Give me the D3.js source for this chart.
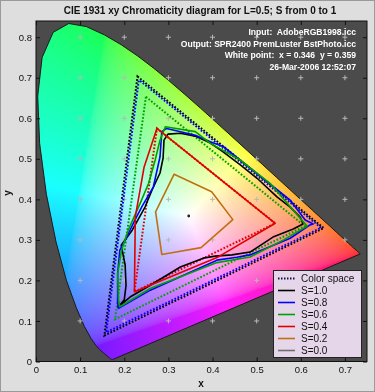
<!DOCTYPE html>
<html><head><meta charset="utf-8">
<script src="https://cdn.jsdelivr.net/npm/d3@7/dist/d3.min.js"></script>
<style>
body{margin:0;background:#dedede;}
#wrap{position:relative;width:375px;height:392px;overflow:hidden;}
canvas,svg{position:absolute;left:0;top:0;}
text{font-family:"Liberation Sans",Arial,sans-serif;}
</style>
</head><body><div id="wrap"><canvas id="cv" width="375" height="392"></canvas><svg id="sv" width="375" height="392"></svg></div>
<script>
// ---- data ----
const title = "CIE 1931 xy Chromaticity diagram for L=0.5; S from 0 to 1";
const infoLines = ["Input:  AdobeRGB1998.icc","Output: SPR2400 PremLuster BstPhoto.icc","White point:  x = 0.346  y = 0.359","26-Mar-2006 12:52:07"];
const xTicks = [0,0.1,0.2,0.3,0.4,0.5,0.6,0.7];
const yTicks = [0,0.1,0.2,0.3,0.4,0.5,0.6,0.7,0.8];
const gridX = [0.1,0.2,0.3,0.4,0.5,0.6,0.7];
const gridY = [0.1,0.2,0.3,0.4,0.5,0.6,0.7,0.8];
// CIE 1931 spectral locus (380-700 nm)
const locusX = [0.1741,0.1740,0.1738,0.1736,0.1733,0.1730,0.1726,0.1721,0.1714,0.1703,0.1689,0.1669,0.1644,0.1611,0.1566,0.1510,0.1440,0.1355,0.1241,0.1096,0.0913,0.0687,0.0454,0.0235,0.0082,0.0039,0.0139,0.0389,0.0743,0.1142,0.1547,0.1929,0.2296,0.2658,0.3016,0.3373,0.3731,0.4087,0.4441,0.4788,0.5125,0.5448,0.5752,0.6029,0.6270,0.6482,0.6658,0.6801,0.6915,0.7006,0.7079,0.7140,0.7190,0.7230,0.7260,0.7283,0.7300,0.7320,0.7334,0.7344,0.7347];
const locusY = [0.0050,0.0050,0.0049,0.0049,0.0048,0.0048,0.0048,0.0048,0.0051,0.0058,0.0069,0.0086,0.0109,0.0138,0.0177,0.0227,0.0297,0.0399,0.0578,0.0868,0.1327,0.2007,0.2950,0.4127,0.5384,0.6548,0.7502,0.8120,0.8338,0.8262,0.8059,0.7816,0.7543,0.7243,0.6923,0.6589,0.6245,0.5896,0.5547,0.5202,0.4866,0.4544,0.4242,0.3965,0.3725,0.3514,0.3340,0.3197,0.3083,0.2993,0.2920,0.2859,0.2809,0.2770,0.2740,0.2717,0.2700,0.2680,0.2666,0.2656,0.2653];
// colour space (input) gamut at each S, dotted
const cs10 = [[0.230,0.703],[0.652,0.329],[0.155,0.064]];
const cs08 = [[0.233,0.695],[0.646,0.330],[0.159,0.072]];
const cs06 = [[0.249,0.653],[0.609,0.334],[0.179,0.104]];
const cs04 = [[0.274,0.575],[0.542,0.341],[0.223,0.172]];
// output gamut at each S, solid
const s10 = [[0.299,0.561],[0.327,0.563],[0.361,0.556],[0.395,0.539],[0.424,0.517],[0.463,0.485],[0.501,0.452],[0.546,0.406],[0.576,0.381],[0.599,0.356],[0.605,0.339],[0.583,0.327],[0.537,0.307],[0.485,0.270],[0.444,0.263],[0.406,0.260],[0.379,0.255],[0.327,0.233],[0.259,0.188],[0.213,0.159],[0.186,0.134],[0.200,0.152],[0.204,0.188],[0.202,0.238],[0.193,0.287],[0.218,0.324],[0.247,0.381],[0.263,0.423],[0.281,0.465],[0.288,0.502],[0.290,0.546]];
const s08 = [[0.296,0.575],[0.361,0.558],[0.395,0.542],[0.425,0.530],[0.500,0.464],[0.576,0.398],[0.610,0.349],[0.628,0.339],[0.621,0.337],[0.576,0.304],[0.485,0.263],[0.455,0.257],[0.410,0.250],[0.259,0.176],[0.187,0.131],[0.185,0.143],[0.185,0.217],[0.190,0.275],[0.206,0.308],[0.224,0.349],[0.240,0.382],[0.266,0.431],[0.281,0.505],[0.285,0.567]];
const s06 = [[0.293,0.579],[0.361,0.567],[0.395,0.538],[0.463,0.497],[0.531,0.439],[0.576,0.382],[0.614,0.334],[0.561,0.300],[0.485,0.258],[0.410,0.244],[0.259,0.180],[0.190,0.135],[0.187,0.152],[0.185,0.217],[0.194,0.275],[0.209,0.324],[0.236,0.390],[0.255,0.439],[0.270,0.497],[0.281,0.546]];
const s04 = [[0.274,0.575],[0.542,0.341],[0.413,0.258],[0.223,0.172],[0.225,0.357],[0.245,0.480]];
const s02 = [[0.313,0.462],[0.398,0.419],[0.446,0.350],[0.374,0.281],[0.285,0.264],[0.271,0.369]];
const s00 = [[0.346,0.359]];
const legendLabels = ["Color space","S=1.0","S=0.8","S=0.6","S=0.4","S=0.2","S=0.0"];
const legendColors = ["#101040","#000000","#0000ff","#00a000","#e00000","#c07010","#707070"];

// ---- layout ----
const W=375,H=392;
const x = d3.scaleLinear().domain([0,0.75]).range([36,367]);
const y = d3.scaleLinear().domain([0,0.84]).range([361.5,21]);

// ---- canvas: chromaticity fill (XYZ -> wide-gamut RGB, normalised) ----
const cv = document.getElementById('cv');
const ctx = cv.getContext('2d');
ctx.fillStyle="#dedede"; ctx.fillRect(0,0,W,H);
ctx.fillStyle="#4b4b4b"; ctx.fillRect(x(0),y(0.84),x(0.75)-x(0),y(0)-y(0.84));
const off = document.createElement('canvas'); off.width=W; off.height=H;
const octx = off.getContext('2d');
const img = octx.createImageData(W,H);
const gam = v => 0.1+0.9*Math.pow(Math.max(0,Math.min(1,v)),1/2.2);
for(let py=Math.floor(y(0.84)); py<Math.ceil(y(0)); py++){
  for(let px=Math.floor(x(0)); px<Math.ceil(x(0.75)); px++){
    const cx=x.invert(px+0.5), cy=y.invert(py+0.5);
    if(cy<=0.002) continue;
    const X=cx/cy, Y=1, Z=(1-cx-cy)/cy;
    let r=1.3459433*X-0.2556075*Y-0.0511118*Z, g=-0.5445989*X+1.5081673*Y+0.0205351*Z, b=1.2118128*Z;
    r=Math.max(r,0); g=Math.max(g,0); b=Math.max(b,0);
    const m=Math.max(r,g,b)||1;
    const i=(py*W+px)*4;
    img.data[i]=gam(r/m)*255; img.data[i+1]=gam(g/m)*255; img.data[i+2]=gam(b/m)*255; img.data[i+3]=255;
  }
}
octx.putImageData(img,0,0);
ctx.save();
ctx.beginPath();
locusX.forEach((lx,i)=>{ const px=x(lx), py=y(locusY[i]); if(i===0) ctx.moveTo(px,py); else ctx.lineTo(px,py); });
ctx.closePath(); ctx.clip();
ctx.drawImage(off,0,0);
ctx.restore();

// ---- svg ----
const svg = d3.select('#sv');
svg.append('rect').attr('x',0.5).attr('y',0.5).attr('width',W-1).attr('height',H-1).attr('fill','none').attr('stroke','#9a9a9a');
const locusPts = locusX.map((lx,i)=>[lx,locusY[i]]);
const closed = d3.line().x(d=>x(d[0])).y(d=>y(d[1])).curve(d3.curveLinearClosed);
svg.append('path').attr('d',closed(locusPts)).attr('fill','none').attr('stroke','#1a1a1a').attr('stroke-width',1);

// grid "+" markers
const gpts=[]; gridX.forEach(gx=>gridY.forEach(gy=>gpts.push([gx,gy])));
svg.append('g').selectAll('path').data(gpts).join('path')
  .attr('d',d=>`M${x(d[0])-2.5},${y(d[1])}h5M${x(d[0])},${y(d[1])-2.5}v5`)
  .attr('stroke','#b8b8b8').attr('stroke-width',1);

// dotted colour-space gamuts
const dotted=[[cs10,'#000000',0],[cs08,'#0000ff',1.7],[cs06,'#00a000',0],[cs04,'#e00000',0]];
dotted.forEach(([d,c,o])=>{
  svg.append('path').attr('d',closed(d)).attr('fill','none').attr('stroke',c)
    .attr('stroke-width',2).attr('stroke-dasharray','1.7,1.7').attr('stroke-dashoffset',o);
});
// solid output gamuts
[[s10,'#000000'],[s08,'#0000ff'],[s06,'#00a000'],[s04,'#e00000'],[s02,'#c07010']].forEach(([d,c])=>{
  svg.append('path').attr('d',closed(d)).attr('fill','none').attr('stroke',c).attr('stroke-width',1.6).attr('stroke-linejoin','round');
});
svg.selectAll('circle.wp').data(s00).join('circle').attr('class','wp')
  .attr('cx',d=>x(d[0])).attr('cy',d=>y(d[1])).attr('r',1.4).attr('fill','#202020');

// axes
const fmt = d=> d===0?'0':d3.format('.1f')(d);
const gx = svg.append('g').attr('transform',`translate(0,${y(0)})`)
  .call(d3.axisBottom(x).tickValues(xTicks).tickSize(-4).tickPadding(5).tickFormat(fmt));
const gy = svg.append('g').attr('transform',`translate(${x(0)},0)`)
  .call(d3.axisLeft(y).tickValues(yTicks).tickSize(-4).tickPadding(4).tickFormat(fmt));
const gt = svg.append('g').attr('transform',`translate(0,${y(0.84)})`)
  .call(d3.axisTop(x).tickValues(xTicks).tickSize(-4).tickFormat(''));
const gr = svg.append('g').attr('transform',`translate(${x(0.75)},0)`)
  .call(d3.axisRight(y).tickValues(yTicks).tickSize(-4).tickFormat(''));
[gx,gy,gt,gr].forEach(g=>{
  g.select('.domain').remove();
  g.selectAll('line').attr('stroke','#111');
  g.selectAll('text').attr('font-size','9.5px').attr('fill','#111').attr('font-family','"Liberation Sans",Arial,sans-serif');
});
svg.append('rect').attr('x',x(0)).attr('y',y(0.84)).attr('width',x(0.75)-x(0)).attr('height',y(0)-y(0.84))
  .attr('fill','none').attr('stroke','#111').attr('stroke-width',1);

// title and labels
svg.append('text').attr('x',200).attr('y',14).attr('text-anchor','middle').attr('font-size','10px').attr('font-weight','bold').attr('fill','#111').text(title);
svg.append('text').attr('x',201).attr('y',387).attr('text-anchor','middle').attr('font-size','10px').attr('font-weight','bold').attr('fill','#111').text('x');
svg.append('text').attr('transform','translate(11,193) rotate(-90)').attr('text-anchor','middle').attr('font-size','10px').attr('font-weight','bold').attr('fill','#111').text('y');

// info text
svg.append('g').selectAll('text').data(infoLines).join('text')
  .attr('x',356).attr('y',(d,i)=>35+i*11.5).attr('text-anchor','end')
  .attr('font-size','8.6px').attr('font-weight','bold').attr('fill','#ffffff')
  .style('white-space','pre').text(d=>d);

// legend
const lg = svg.append('g');
lg.append('rect').attr('x',273.5).attr('y',270.5).attr('width',88).attr('height',87).attr('fill','#e6d6ea').attr('stroke','#222');
legendLabels.forEach((lab,i)=>{
  const yy=278.5+i*12;
  lg.append('line').attr('x1',278).attr('x2',295).attr('y1',yy).attr('y2',yy)
    .attr('stroke',legendColors[i]).attr('stroke-width',i===0?2:1.6)
    .attr('stroke-dasharray',i===0?'1.5,1.5':null);
  lg.append('text').attr('x',301).attr('y',yy+3.5).attr('font-size','10px').attr('fill','#111').text(lab);
});
</script>
</body></html>
